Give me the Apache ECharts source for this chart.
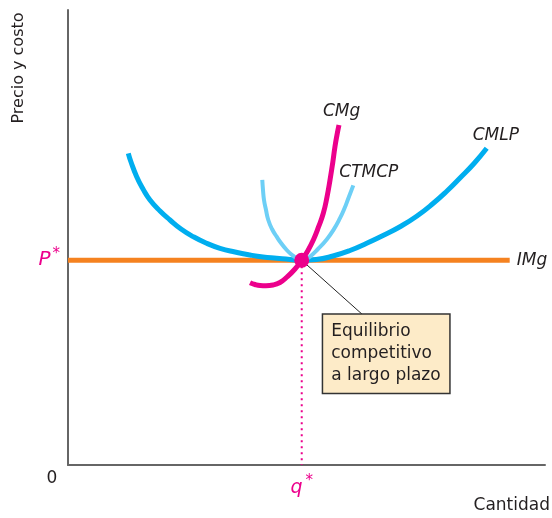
<!DOCTYPE html>
<html><head><meta charset="utf-8">
<script src="https://cdn.jsdelivr.net/npm/echarts@6/dist/echarts.min.js"></script>
<style>html,body{margin:0;padding:0;background:#fff}#c{width:552px;height:518px}</style>
</head><body><div id="c"></div>
<script>
// Equilibrium
const qStar = 49;
const pStar = 45;
// IMg (marginal revenue = price)
const imgX = [0, 92.6];
const imgY = [45, 45];
// CMLP (long-run average cost)
const cmlpX = [12.64, 13.21, 14.40, 15.72, 17.19, 19.29, 21.38, 23.69, 26.27, 28.93, 31.87, 35.01, 38.16, 40.88, 43.75, 46.54, 49,
               52.03, 55.56, 59.12, 62.62, 66.04, 69.60, 73.17, 76.58, 79.45, 82.18, 85.12, 87.78];
const cmlpY = [68.51, 66.59, 63.36, 60.66, 58.24, 55.82, 53.85, 51.87, 50.18, 48.79, 47.63, 46.81, 46.15, 45.71, 45.43, 45.16, 45,
               45.16, 45.93, 47.14, 48.73, 50.44, 52.37, 54.73, 57.52, 60.22, 63.08, 66.26, 69.60];
// CTMCP (short-run average total cost)
const ctmcpX = [40.73, 40.88, 41.09, 41.51, 41.99, 42.77, 43.75, 44.65, 45.85, 46.86, 47.95, 49,
                49.90, 50.73, 52.41, 54.24, 55.66, 57.02, 57.97, 58.76, 59.81];
const ctmcpY = [62.64, 60.44, 58.24, 56.04, 53.85, 51.87, 50.18, 48.79, 47.25, 46.26, 45.43, 45,
                45.27, 45.78, 47.47, 49.58, 51.67, 54.24, 56.42, 58.59, 61.45];
// CMg (marginal cost)
const cmgX = [38.16, 39.20, 40.25, 41.51, 42.98, 44.44, 45.91, 47.59, 49, 50.31, 51.43, 52.52, 53.52, 54.30, 54.93, 55.49, 55.97, 56.39, 56.81];
const cmgY = [40.07, 39.67, 39.45, 39.41, 39.56, 40.11, 41.32, 43.08, 45, 47.14, 49.45, 52.31, 55.32, 58.90, 62.64, 66.37, 69.96, 72.53, 74.73];
// Annotation anchor (box top-left corner / leader end)
const noteX = [53.5, 61.8];
const noteY = [33.0, 33.0];
const noteText = ['Equilibrio', 'competitivo', 'a largo plazo'];

const zip = (xs, ys) => xs.map((x, i) => [x, ys[i]]);
const FONT = 'DejaVu Sans';
const TXT = '#231F20';
const MAG = '#EC008C';

function curve(name, xs, ys, color, width, offset, z) {
  return {
    type: 'line', name, data: zip(xs, ys), symbol: 'none', z,
    smooth: 0.5,
    lineStyle: { color, width, cap: 'butt', join: 'round' },
    endLabel: { show: true, formatter: name, offset, distance: 0,
      fontFamily: FONT, fontSize: 17, fontStyle: 'italic', color: TXT },
    silent: true
  };
}

const chart = echarts.init(document.getElementById('c'), null, { renderer: 'canvas' });
chart.setOption({
  animation: false,
  grid: { left: 68, right: 7, top: 10, bottom: 53 },
  xAxis: {
    type: 'value', min: 0, max: 100,
    axisLine: { show: true, lineStyle: { color: '#666', width: 2 } },
    axisTick: { show: false }, splitLine: { show: false },
    axisLabel: {
      show: true, customValues: [qStar], margin: 9,
      formatter: () => '{q|q}{s|*}',
      rich: {
        q: { fontFamily: FONT, fontSize: 19, fontStyle: 'italic', color: MAG },
        s: { fontFamily: FONT, fontSize: 15, color: MAG, verticalAlign: 'top', padding: [0, 0, 14, 3] }
      }
    }
  },
  yAxis: {
    type: 'value', min: 0, max: 100,
    axisLine: { show: true, lineStyle: { color: '#666', width: 2 } },
    axisTick: { show: false }, splitLine: { show: false },
    axisLabel: {
      show: true, customValues: [pStar], margin: 8,
      formatter: () => '{p|P}{s|*}',
      rich: {
        p: { fontFamily: FONT, fontSize: 20, fontStyle: 'italic', color: MAG },
        s: { fontFamily: FONT, fontSize: 15, color: MAG, verticalAlign: 'top', padding: [0, 0, 12, 2] }
      }
    }
  },
  graphic: [
    { type: 'text', x: 52, y: 479, style: { text: '0', fontFamily: FONT, fontSize: 17, fill: TXT, align: 'center', verticalAlign: 'middle' } },
    { type: 'text', x: 550, y: 506, style: { text: 'Cantidad', fontFamily: FONT, fontSize: 17, fill: TXT, align: 'right', verticalAlign: 'middle' } },
    { type: 'text', x: 19, y: 68, rotation: Math.PI / 2, style: { text: 'Precio y costo', fontFamily: FONT, fontSize: 16, fill: TXT, align: 'center', verticalAlign: 'middle' } }
  ],
  series: [
    curve('IMg', imgX, imgY, '#F58220', 5, [7, 0], 2),
    curve('CMLP', cmlpX, cmlpY, '#00AEEF', 5, [-14, -13], 3),
    curve('CTMCP', ctmcpX, ctmcpY, '#6DCFF6', 4, [-14, -13], 4),
    curve('CMg', cmgX, cmgY, MAG, 5, [-16, -13], 5),
    {
      type: 'line', data: [[qStar, pStar], [qStar, 0]], symbol: 'none', z: 6, silent: true,
      lineStyle: { color: MAG, width: 2, type: [2, 4] }
    },
    {
      type: 'line', data: [[qStar, pStar], [noteX[1], noteY[1]]], symbol: 'none', z: 6, silent: true,
      lineStyle: { color: '#222', width: 1 }
    },
    {
      type: 'scatter', data: [[qStar, pStar]], symbolSize: 15, z: 7, silent: true,
      itemStyle: { color: MAG, opacity: 1 }
    },
    {
      type: 'scatter', data: [[noteX[0], noteY[0]]], symbolSize: 0, z: 8, silent: true,
      itemStyle: { opacity: 1 },
      label: {
        show: true, position: [0, 0], align: 'left', verticalAlign: 'top',
        formatter: noteText.join('\n'), opacity: 1,
        fontFamily: FONT, fontSize: 17, lineHeight: 22, color: TXT,
        backgroundColor: '#FDEBC8', borderColor: '#333', borderWidth: 1.5,
        padding: [6, 8, 6, 8], width: 110
      }
    }
  ]
});
</script></body></html>
